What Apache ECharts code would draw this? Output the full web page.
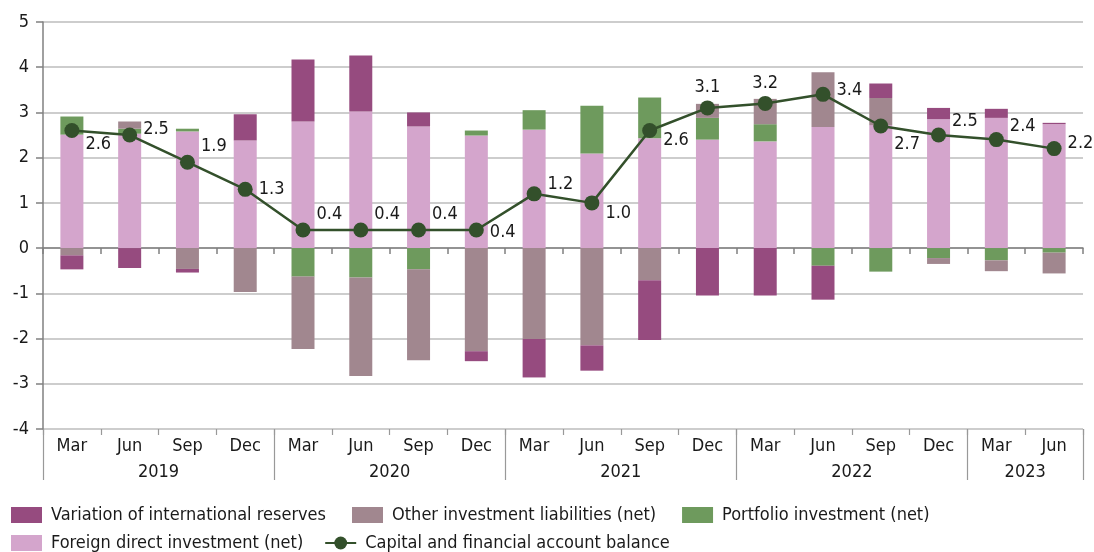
<!DOCTYPE html>
<html>
<head>
<meta charset="utf-8">
<script src="https://cdn.jsdelivr.net/npm/echarts@6/dist/echarts.min.js"></script>
<style>
    html, body {margin: 0; padding: 0; background: #fff;}
    #chart {width: 1094px; height: 552px;}
</style>
</head>
<body>
<div id="chart"></div>
<script>
var months = ["Mar", "Jun", "Sep", "Dec", "Mar", "Jun", "Sep", "Dec", "Mar", "Jun", "Sep", "Dec",
    "Mar", "Jun", "Sep", "Dec", "Mar", "Jun"];
var years = ["2019", "2020", "2021", "2022", "2023"];
var yearCenters = [2, 6, 10, 14, 17];
var yearBounds = [0, 4, 8, 12, 16, 18];

var fdi = [2.51, 2.53, 2.58, 2.38, 2.80, 3.02, 2.69, 2.49, 2.62, 2.09, 2.43, 2.40, 2.36, 2.68, 2.72, 2.85, 2.88, 2.74];
var portfolio = [0.40, 0.11, 0.06, 0, -0.63, -0.65, -0.47, 0.11, 0.43, 1.06, 0.90, 0.48, 0.38, -0.39, -0.52, -0.22, -0.27, -0.10];
var otherInv = [-0.16, 0.16, -0.46, -0.97, -1.60, -2.18, -2.01, -2.28, -2.01, -2.15, -0.71, 0.31, 0.56, 1.21, 0.60, -0.13, -0.24, -0.46];
var reserves = [-0.31, -0.44, -0.08, 0.58, 1.37, 1.24, 0.31, -0.22, -0.85, -0.56, -1.32, -1.05, -1.05, -0.75, 0.32, 0.25, 0.20, 0.03];
var balance = [2.6, 2.5, 1.9, 1.3, 0.4, 0.4, 0.4, 0.4, 1.2, 1.0, 2.6, 3.1, 3.2, 3.4, 2.7, 2.5, 2.4, 2.2];

// where each balance label sits: [position, vertical shift]
var labelSpots = [["right", 14], ["right", -6], ["right", -16], ["right", 0], ["right", -16], ["right", -16],
    ["right", -16], ["right", 2], ["right", -10], ["right", 10], ["right", 10], ["top", 0], ["top", 0],
    ["right", -4], ["right", 18], ["right", -14], ["right", -13], ["right", -5]];

var names = {
    res: "Variation of international reserves",
    oth: "Other investment liabilities (net)",
    pf: "Portfolio investment (net)",
    fdi: "Foreign direct investment (net)",
    bal: "Capital and financial account balance"
};
var font = "'Liberation Sans Narrow', 'DejaVu Sans Condensed', sans-serif";
var txt = "#1a1a1a";

function barSeries(name, data, color) {
    return {
        name: name, type: "bar", stack: "total", data: data, barWidth: 23,
        itemStyle: {color: color}, emphasis: {disabled: true}
    };
}

var lineData = balance.map(function (v, i) {
    var spot = labelSpots[i];
    return {
        value: v,
        label: {position: spot[0], offset: [0, spot[1]], distance: spot[0] === "top" ? 4 : 6}
    };
});

var legendText = {fontSize: 18, color: txt, fontFamily: font, padding: [0, 0, 0, 4]};

var chart = echarts.init(document.getElementById("chart"));
chart.setOption({
    animation: false,
    textStyle: {fontFamily: font},
    grid: {left: 43, right: 11, top: 22, bottom: 123},
    legend: [
        {
            data: [{name: names.res, icon: "rect"}, {name: names.oth, icon: "rect"}, {name: names.pf, icon: "rect"}],
            left: 11, top: 506, padding: 0,
            itemWidth: 31, itemHeight: 16, itemGap: 26,
            textStyle: legendText
        },
        {
            data: [{name: names.fdi, icon: "rect"}, names.bal],
            left: 11, top: 534, padding: 0,
            itemWidth: 31, itemHeight: 16, itemGap: 21,
            textStyle: legendText
        }
    ],
    xAxis: [
        {
            // axis line on zero with ticks between quarters
            type: "category", data: months, position: "bottom",
            axisLine: {onZero: true, lineStyle: {color: "#808080", width: 1.5}},
            axisTick: {show: true, length: 6, lineStyle: {color: "#808080", width: 1.5}},
            axisLabel: {show: false}
        },
        {
            type: "category", data: months, position: "bottom",
            axisLine: {show: false, onZero: false},
            axisTick: {show: true, length: 6, lineStyle: {color: "#999", width: 1.2}},
            axisLabel: {fontSize: 18, color: txt, margin: 8, fontFamily: font}
        },
        {
            type: "value", min: 0, max: 18, position: "bottom",
            axisLine: {show: false, onZero: false},
            splitLine: {show: false},
            axisTick: {show: true, length: 51, customValues: yearBounds, lineStyle: {color: "#999", width: 1.2}},
            axisLabel: {
                customValues: yearCenters, fontSize: 18, color: txt, margin: 34, fontFamily: font,
                formatter: function (v) {
                    var k = yearCenters.indexOf(v);
                    return k >= 0 ? years[k] : "";
                }
            }
        }
    ],
    yAxis: {
        type: "value", min: -4, max: 5, interval: 1,
        axisLine: {show: true, lineStyle: {color: "#808080", width: 1.5}},
        axisTick: {show: true, length: 7, lineStyle: {color: "#808080", width: 1.5}},
        axisLabel: {fontSize: 18, color: txt, margin: 14, fontFamily: font},
        splitLine: {lineStyle: {color: "#bcbcbc", width: 1.5}}
    },
    series: [
        barSeries(names.fdi, fdi, "#d4a5cc"),
        barSeries(names.pf, portfolio, "#6e9a5d"),
        barSeries(names.oth, otherInv, "#a1878f"),
        barSeries(names.res, reserves, "#964b7f"),
        {
            name: names.bal, type: "line", data: lineData, z: 5,
            symbol: "circle", symbolSize: 15,
            lineStyle: {color: "#33502b", width: 2.5},
            itemStyle: {color: "#33502b"},
            label: {
                show: true, fontSize: 18, color: txt, fontFamily: font,
                formatter: function (p) { return p.value.toFixed(1); }
            },
            emphasis: {disabled: true}
        }
    ]
});
</script>
</body>
</html>
